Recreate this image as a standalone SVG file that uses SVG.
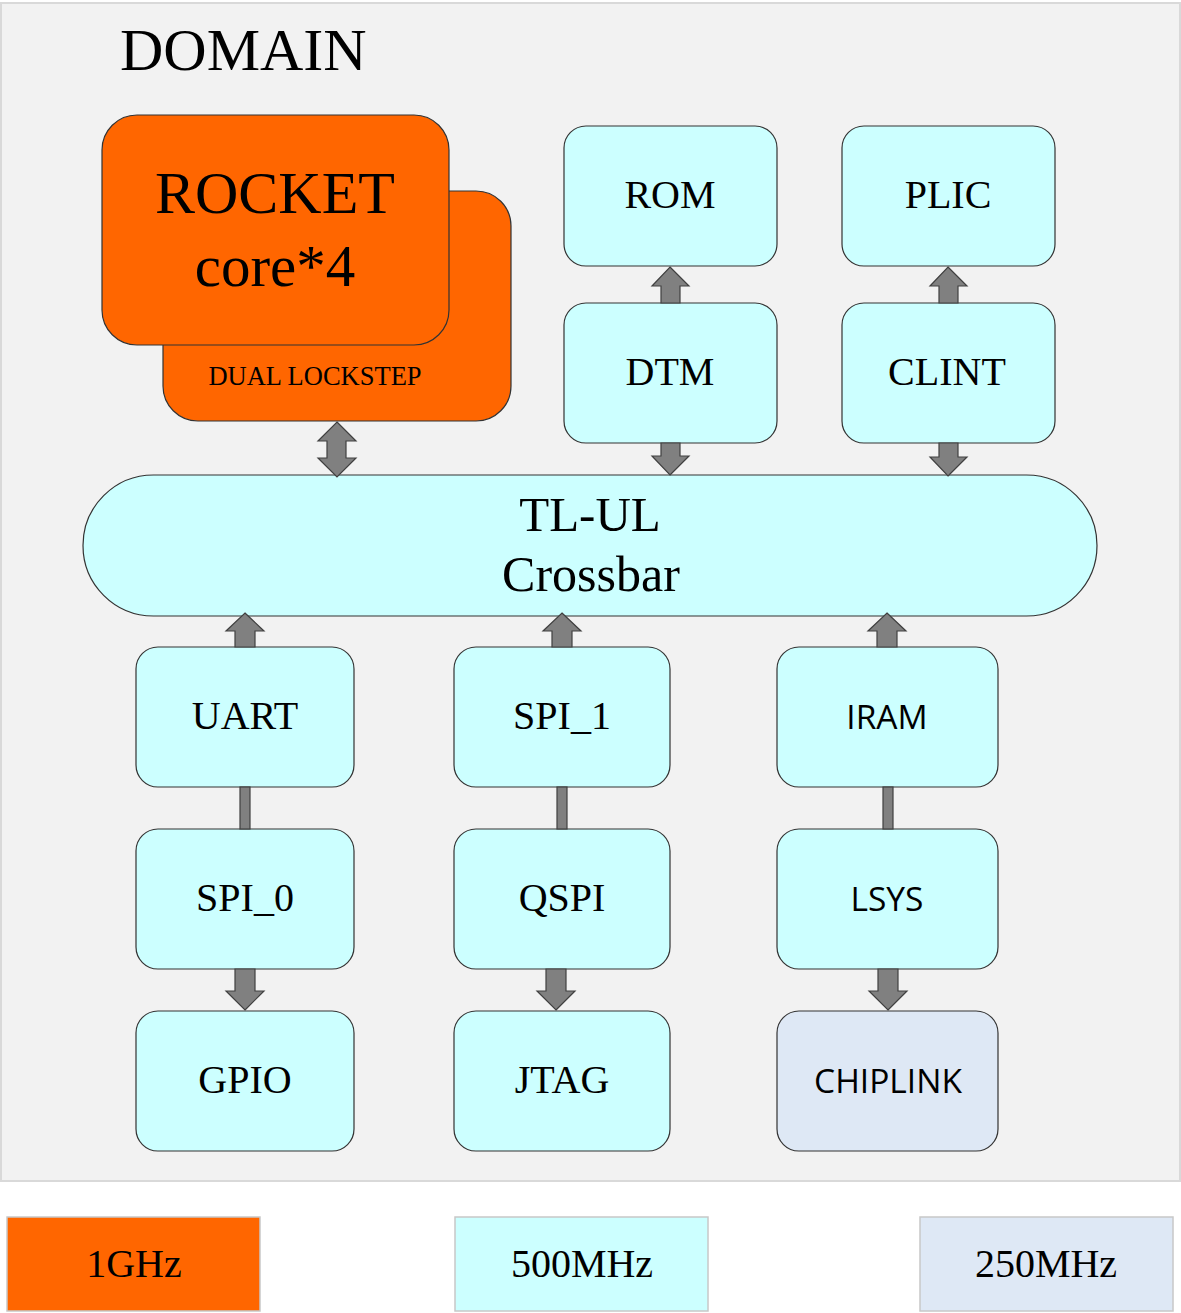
<svg xmlns="http://www.w3.org/2000/svg" width="1181" height="1313" viewBox="0 0 1181 1313">
<style>
.n{fill:#ccffff;stroke:#333;stroke-width:1.2}
.o{fill:#ff6600;stroke:#333;stroke-width:1.2}
.c{fill:#dee8f5;stroke:#333;stroke-width:1.2}
.t{font-family:"Liberation Serif",serif;font-size:40px;text-anchor:middle;fill:#000}
.s{font-family:"Open Sans","Noto Sans",sans-serif;font-size:33.5px;text-anchor:middle;fill:#000}
.a{fill:#808080;stroke:#404040;stroke-width:1.2}
.lg{stroke:#c8c8c8;stroke-width:1.5}
</style>
<rect width="1181" height="1313" fill="#fff"/>
<rect x="1" y="3" width="1179" height="1178" fill="#f2f2f2" stroke="#d9d9d9" stroke-width="2"/>
<text x="120" y="70" font-family="Liberation Serif,serif" font-size="60">DOMAIN</text>
<g id="rocket">
<rect class="o" x="163" y="191" width="348" height="230" rx="35"/>
<rect class="o" x="102" y="115" width="347" height="230" rx="35"/>
<text class="t" x="275" y="213" style="font-size:60px">ROCKET</text>
<text class="t" x="275" y="286" style="font-size:59px">core*4</text>
<text class="t" x="315" y="385" style="font-size:26.5px">DUAL LOCKSTEP</text>
</g>
<g id="rom"><rect class="n" x="564" y="126" width="213" height="140" rx="22"/><text class="t" x="670" y="208">ROM</text></g>
<g id="dtm"><rect class="n" x="564" y="303" width="213" height="140" rx="22"/><text class="t" x="670" y="385">DTM</text></g>
<g id="plic"><rect class="n" x="842" y="126" width="213" height="140" rx="22"/><text class="t" x="948" y="208">PLIC</text></g>
<g id="clint"><rect class="n" x="842" y="303" width="213" height="140" rx="22"/><text class="t" x="947" y="385">CLINT</text></g>
<g id="crossbar"><rect class="n" x="83" y="475" width="1014" height="141" rx="70.5"/>
<text class="t" x="590" y="531" style="font-size:49px">TL-UL</text>
<text class="t" x="591" y="591" style="font-size:50px">Crossbar</text></g>
<g id="uart"><rect class="n" x="136" y="647" width="218" height="140" rx="22"/><text class="t" x="245" y="729">UART</text></g>
<g id="spi1"><rect class="n" x="454" y="647" width="216" height="140" rx="22"/><text class="t" x="562" y="729">SPI_1</text></g>
<g id="iram"><rect class="n" x="777" y="647" width="221" height="140" rx="22"/><text class="s" x="887" y="729">IRAM</text></g>
<g id="spi0"><rect class="n" x="136" y="829" width="218" height="140" rx="22"/><text class="t" x="245" y="911">SPI_0</text></g>
<g id="qspi"><rect class="n" x="454" y="829" width="216" height="140" rx="22"/><text class="t" x="562" y="911">QSPI</text></g>
<g id="lsys"><rect class="n" x="777" y="829" width="221" height="140" rx="22"/><text class="s" x="887" y="911">LSYS</text></g>
<g id="gpio"><rect class="n" x="136" y="1011" width="218" height="140" rx="22"/><text class="t" x="245" y="1093">GPIO</text></g>
<g id="jtag"><rect class="n" x="454" y="1011" width="216" height="140" rx="22"/><text class="t" x="562" y="1093">JTAG</text></g>
<g id="chiplink"><rect class="c" x="777" y="1011" width="221" height="140" rx="22"/><text class="s" x="888" y="1093">CHIPLINK</text></g>
<g id="connectors">
<path class="a" d="M337 422 L356 441 L346 441 L346 458 L356 458 L337 477 L318 458 L327 458 L327 441 L318 441 Z"/>
<path class="a" d="M670 267 L689 286 L680 286 L680 303 L661 303 L661 286 L652 286 Z"/>
<path class="a" d="M948 267 L967 286 L958 286 L958 303 L939 303 L939 286 L930 286 Z"/>
<path class="a" d="M670 475 L689 456 L680 456 L680 443 L661 443 L661 456 L652 456 Z"/>
<path class="a" d="M948 476 L967 457 L958 457 L958 443 L939 443 L939 457 L930 457 Z"/>
<path class="a" d="M245 613 L264 631 L255 631 L255 647 L235 647 L235 631 L226 631 Z"/>
<path class="a" d="M562 613 L581 631 L572 631 L572 647 L552 647 L552 631 L543 631 Z"/>
<path class="a" d="M887 613 L906 631 L897 631 L897 647 L877 647 L877 631 L868 631 Z"/>
<rect class="a" x="240" y="787" width="10" height="42"/>
<rect class="a" x="557" y="787" width="10" height="42"/>
<rect class="a" x="883" y="787" width="10" height="42"/>
<path class="a" d="M245 1010 L264 991 L255 991 L255 969 L235 969 L235 991 L226 991 Z"/>
<path class="a" d="M556 1010 L575 991 L566 991 L566 969 L546 969 L546 991 L537 991 Z"/>
<path class="a" d="M888 1010 L907 991 L898 991 L898 969 L878 969 L878 991 L869 991 Z"/>
</g>
<g id="legend">
<rect class="lg" x="7" y="1217" width="253" height="94" fill="#ff6600"/>
<text class="t" x="134" y="1277">1GHz</text>
<rect class="lg" x="455" y="1217" width="253" height="94" fill="#ccffff"/>
<text class="t" x="582" y="1277">500MHz</text>
<rect class="lg" x="920" y="1217" width="253" height="94" fill="#dee8f5"/>
<text class="t" x="1046" y="1277">250MHz</text>
</g>
</svg>
